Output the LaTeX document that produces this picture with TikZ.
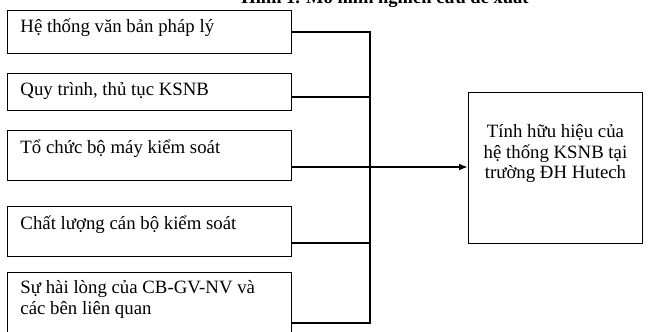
\documentclass[tikz,border=0pt]{standalone}
\usepackage{fontspec}
\setmainfont{Liberation Serif}
\usetikzlibrary{arrows.meta}
\newcommand\bxtext[4]{\parbox[c][#2][t]{#1}{\leftskip=13pt\rightskip=0pt plus 1fil\parindent=0pt\rule{0pt}{#3}#4}}
\newcommand\rstext[4]{\parbox[c][#2][t]{#1}{\centering\parindent=0pt\rule{0pt}{#3}#4}}
\begin{document}
\begin{tikzpicture}[x=1pt,y=-1pt,
  every node/.style={font=\fontsize{18.8}{20.5}\selectfont},
  box/.style={draw, line width=1pt, inner sep=0pt, anchor=north west},
  conn/.style={line width=1.8pt}]
\fill[white] (0,0) rectangle (649,332);
\useasboundingbox (0,0) rectangle (649,332);
\node[font=\fontsize{18.5}{20}\selectfont\bfseries, anchor=base] (title) at (385,4) {Hình 1. Mô hình nghiên cứu đề xuất};
\node[box] (b1) at (7,10) {\bxtext{284pt}{43pt}{22pt}{Hệ thống văn bản pháp lý}};
\node[box] (b2) at (7,73) {\bxtext{284pt}{37pt}{22pt}{Quy trình, thủ tục KSNB}};
\node[box] (b3) at (7,130) {\bxtext{284pt}{50pt}{23pt}{Tổ chức bộ máy kiểm soát}};
\node[box] (b4) at (7,206) {\bxtext{284pt}{50pt}{23pt}{Chất lượng cán bộ kiểm soát}};
\node[box] (b5) at (7,272) {\bxtext{284pt}{73pt}{21pt}{Sự hài lòng của CB-GV-NV và\\các bên liên quan}};
\node[box] (res) at (468,92) {\rstext{174pt}{151pt}{45pt}{Tính hữu hiệu của\\hệ thống KSNB tại\\trường ĐH Hutech}};
\coordinate (t1) at (370,32);
\coordinate (t2) at (370,97);
\coordinate (t3) at (370,167);
\coordinate (t4) at (370,243);
\coordinate (t5) at (370,323);
\draw[conn] (b1.east |- t1) -- (t1);
\draw[conn] (b2.east |- t2) -- (t2);
\draw[conn] (b3.east |- t3) -- (t3);
\draw[conn] (b4.east |- t4) -- (t4);
\draw[conn] (b5.east |- t5) -- (t5);
\draw[conn] ([yshift=0.9pt]t1) -- ([yshift=-0.9pt]t5);
\draw[conn, -{Latex[length=9pt,width=7pt]}] (t3) -- (res.west |- t3);
\end{tikzpicture}
\end{document}
